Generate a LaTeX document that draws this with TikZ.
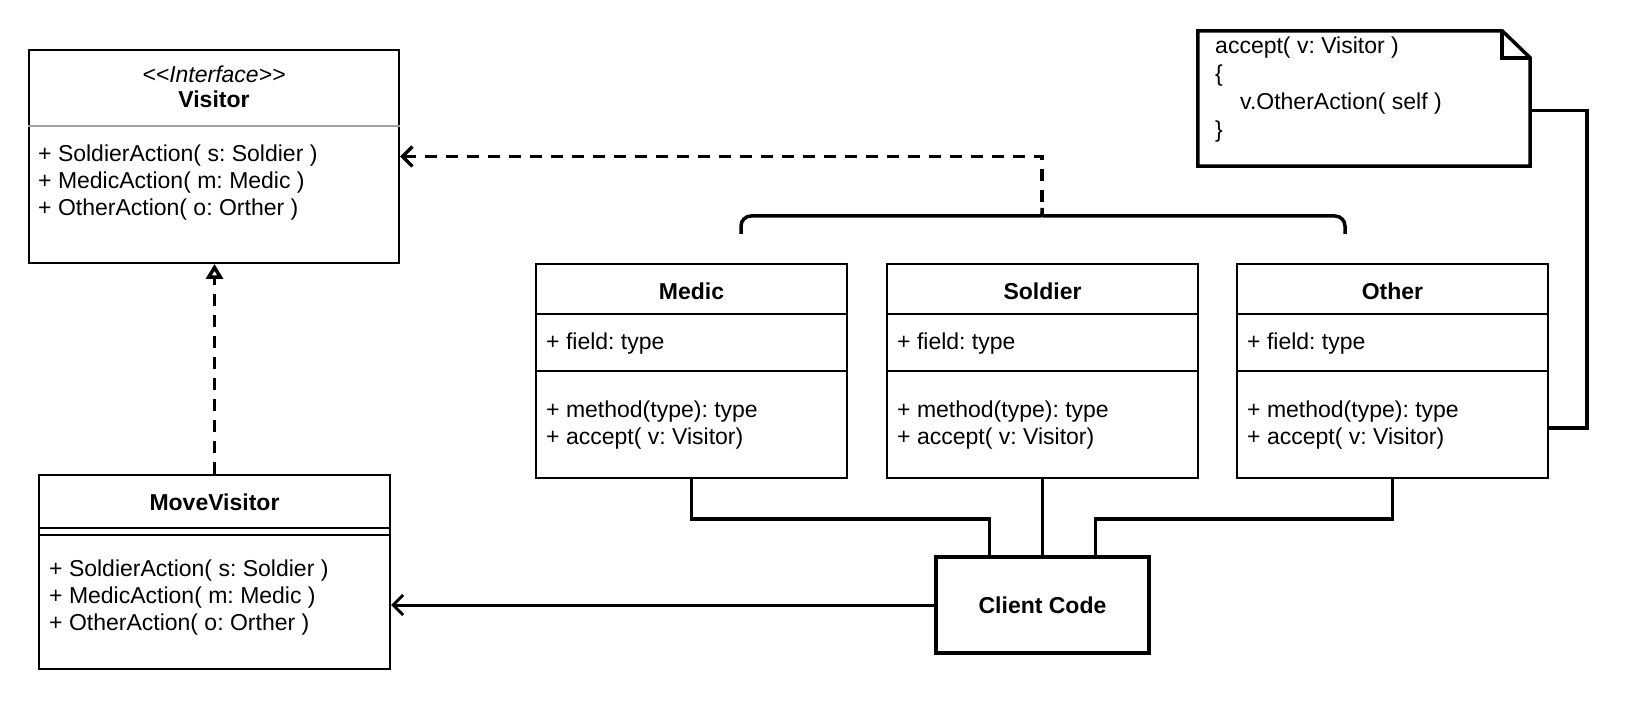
\documentclass[tikz,border=0pt]{standalone}
\usepackage{fontspec}
\setmainfont{Liberation Sans}
\usetikzlibrary{arrows.meta}
\definecolor{sepgray}{RGB}{160,160,160}
\frenchspacing

\begin{document}
\begin{tikzpicture}[x=1pt,y=-1pt]
        \tikzset{every node/.style={font=\fontsize{23}{27}\selectfont},
            umlbox/.style={draw,line width=2pt,inner sep=0pt,minimum width=311pt,minimum height=214pt},
            headtext/.style={font=\fontsize{23}{27}\selectfont\bfseries},
            rowtext/.style={anchor=west,align=left,inner sep=0pt},
            sepline/.style={line width=2pt},
            wire/.style={line width=3.5pt},
            notebox/.style={line width=3.5pt,line join=miter},
            dep/.style={line width=3.5pt,dash pattern=on 12pt off 9pt,-{Straight Barb[length=10pt,width=20pt]}},
            realize/.style={line width=3.5pt,dash pattern=on 12pt off 9pt,-{Triangle[open,length=15pt,width=17pt]}},
            assoc/.style={line width=3pt,-{Straight Barb[length=10pt,width=20pt]}}}
        \useasboundingbox (0,0) rectangle (1626,708);

        \node[umlbox,minimum width=370pt,minimum height=213pt] (visitor) at (214,156.5) {};
        \draw[sepgray,line width=1.5pt] ([yshift=-77pt]visitor.north west) -- ([yshift=-77pt]visitor.north east);
        \node[font=\fontsize{23}{27}\selectfont\itshape] (vistag) at (214,74) {<{}<Interface>{}>};
        \node[headtext] (vistitle) at (214,99) {Visitor};
        \node[rowtext] (visops) at (38,183) {+ SoldierAction( s: Soldier )\\+ MedicAction( m: Medic )\\+ OtherAction( o: Orther )};

        \node[umlbox,minimum width=351pt,minimum height=194pt] (movevisitor) at (214.5,572) {};
        \draw[sepline] ([yshift=-54pt]movevisitor.north west) -- ([yshift=-54pt]movevisitor.north east);
        \draw[sepline] ([yshift=-61pt]movevisitor.north west) -- ([yshift=-61pt]movevisitor.north east);
        \node[headtext] (movetitle) at (214.5,502) {MoveVisitor};
        \node[rowtext] (moveops) at (49,598) {+ SoldierAction( s: Soldier )\\+ MedicAction( m: Medic )\\+ OtherAction( o: Orther )};

        \node[umlbox] (medic) at (691.5,371) {};
        \draw[sepline] ([yshift=-51pt]medic.north west) -- ([yshift=-51pt]medic.north east);
        \draw[sepline] (medic.west) -- (medic.east);
        \node[headtext] (medictitle) at (691.5,291) {Medic};
        \node[rowtext] (medicfield) at (546,344) {+ field: type};
        \node[rowtext] (medicops) at (546,425) {+ method(type): type\\+ accept( v: Visitor)};

        \node[umlbox] (soldier) at (1042.5,371) {};
        \draw[sepline] ([yshift=-51pt]soldier.north west) -- ([yshift=-51pt]soldier.north east);
        \draw[sepline] (soldier.west) -- (soldier.east);
        \node[headtext] (soldiertitle) at (1042.5,291) {Soldier};
        \node[rowtext] (soldierfield) at (897,344) {+ field: type};
        \node[rowtext] (soldierops) at (897,425) {+ method(type): type\\+ accept( v: Visitor)};

        \node[umlbox] (other) at (1392.5,371) {};
        \draw[sepline] ([yshift=-51pt]other.north west) -- ([yshift=-51pt]other.north east);
        \draw[sepline] (other.west) -- (other.east);
        \node[headtext] (othertitle) at (1392.5,291) {Other};
        \node[rowtext] (otherfield) at (1247,344) {+ field: type};
        \node[rowtext] (otherops) at (1247,425) {+ method(type): type\\+ accept( v: Visitor)};

        \node[draw,line width=4pt,inner sep=0pt,minimum width=213pt,minimum height=96pt,headtext] (client) at (1042.5,605) {Client Code};

        \node[inner sep=0pt,minimum width=332pt,minimum height=135pt] (note) at (1364,98.5) {};
        \draw[notebox] (note.north west) -- ([xshift=-28pt]note.north east) -- ([yshift=-27pt]note.north east) -- (note.south east) -- (note.south west) -- cycle;
        \draw[notebox] ([xshift=-28pt]note.north east) |- ([yshift=-27pt]note.north east);
        \node[rowtext,font=\fontsize{23}{28}\selectfont] (notetext) at (1215,90) {accept( v: Visitor )\\\{\\\hspace{25pt}v.OtherAction( self )\\\}};

        \coordinate (braceL) at (741,234);
        \coordinate (braceR) at (1345,234);
        \coordinate (braceTip) at (1042,202);
        \draw[wire,rounded corners=10pt] (braceL) |- (1030,216) .. controls (1042,216) .. (braceTip) .. controls (1042,216) .. (1054,216) -| (braceR);

        \draw[dep] (braceTip) |- (visitor.east);
        \draw[realize] (movevisitor.north) -- (movevisitor.north |- visitor.south);
        \draw[assoc] (client.west) -- (client.west -| movevisitor.east);
        \draw[wire] (medic.south) -- ++(0,40) -| ([xshift=-53pt]client.north);
        \draw[wire] (soldier.south) -- (client.north);
        \draw[wire] (other.south) -- ++(0,40) -| ([xshift=53pt]client.north);
        \draw[wire] ([yshift=-12pt]note.east) -- ++(57,0) |- ([yshift=-57pt]other.east);
\end{tikzpicture}
\end{document}
